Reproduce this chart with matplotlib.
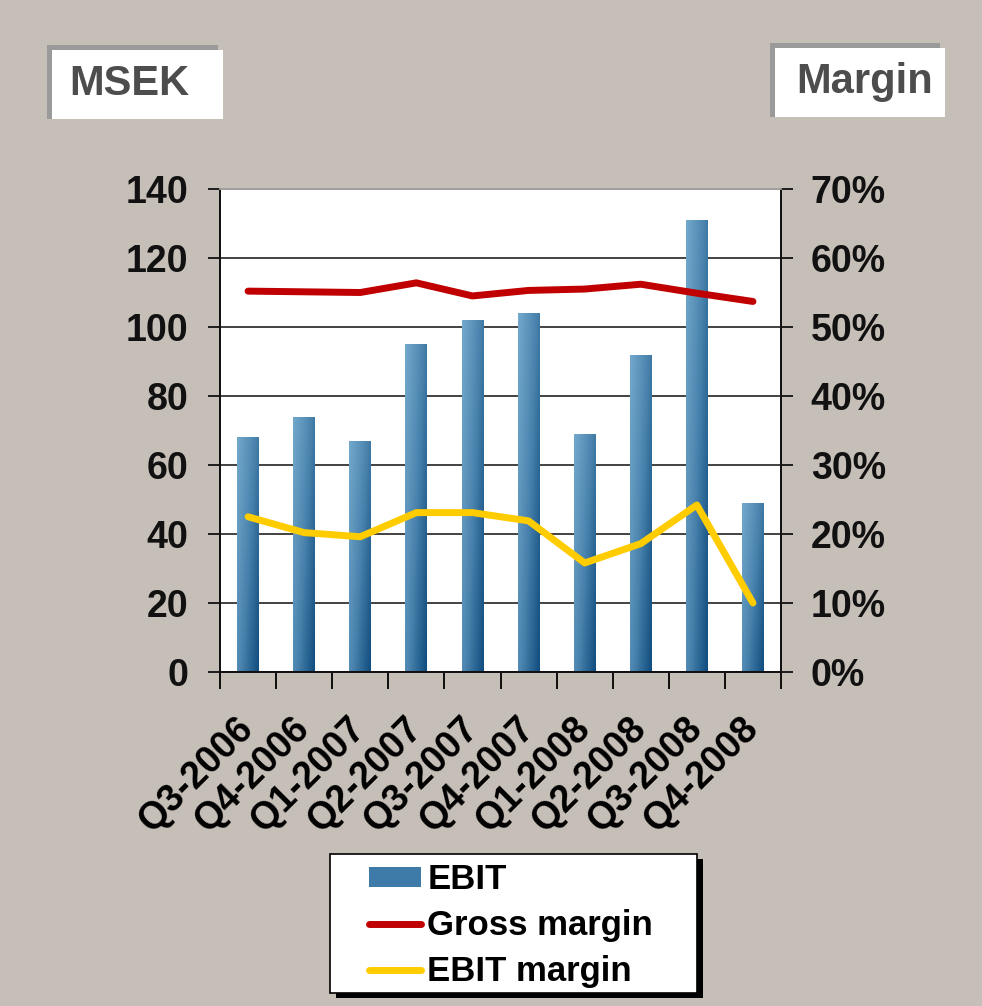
import numpy as np
import matplotlib
matplotlib.use("Agg")
import matplotlib.pyplot as plt
from matplotlib.patches import Rectangle, Patch
from matplotlib.lines import Line2D
from matplotlib.colors import LinearSegmentedColormap

plt.rcParams['font.family'] = ['Liberation Sans', 'DejaVu Sans']
plt.rcParams['font.weight'] = 'bold'

quarters = ["Q3-2006", "Q4-2006", "Q1-2007", "Q2-2007", "Q3-2007",
            "Q4-2007", "Q1-2008", "Q2-2008", "Q3-2008", "Q4-2008"]
ebit = [68, 74, 67, 95, 102, 104, 69, 92, 131, 49]
gross_margin = [55.2, 55.1, 55.0, 56.4, 54.5, 55.3, 55.5, 56.2, 54.9, 53.7]
ebit_margin = [22.5, 20.2, 19.6, 23.1, 23.1, 21.9, 15.8, 18.6, 24.2, 10.0]

bg = "#c6bfb8"
W, H = 982, 1006
fig = plt.figure(figsize=(W / 100, H / 100), dpi=100, facecolor=bg)

ax = fig.add_axes([220 / W, 1 - 672 / H, 561 / W, 483 / H])
ax.set_facecolor("white")
ax2 = ax.twinx()

x = np.arange(len(quarters))
bars = ax.bar(x, ebit, width=0.39, color="#3d7aa6", zorder=2)

# gradient fill for each bar
cmap = LinearSegmentedColormap.from_list("ebit", ["#74a9cc", "#4a84ae", "#104c7e"])
gx, gy = np.meshgrid(np.linspace(0, 1, 60), np.linspace(0, 1, 120))
grad = 0.6 * gx + 0.4 * gy
for b in bars:
    bx, by = b.get_x(), b.get_y()
    bw, bh = b.get_width(), b.get_height()
    im = ax.imshow(grad, cmap=cmap, aspect="auto", zorder=2.1,
                   extent=[bx, bx + bw, by, by + bh], origin="upper")
    im.set_clip_path(b)

ax.set_xlim(-0.5, len(quarters) - 0.5)
ax.set_ylim(0, 140)
ax.set_yticks(np.arange(0, 141, 20))
ax.grid(axis="y", color="#222222", linewidth=1.2, zorder=1)
ax.set_axisbelow(True)

ax2.plot(x, gross_margin, color="#c00000", linewidth=5, solid_capstyle="round", zorder=3)
ax2.plot(x, ebit_margin, color="#ffcc00", linewidth=5, solid_capstyle="round", zorder=3)
ax2.set_ylim(0, 70)
ax2.set_yticks(np.arange(0, 71, 10))
ax2.set_yticklabels([f"{v}%" for v in range(0, 71, 10)])

for a in (ax, ax2):
    a.spines["top"].set_color("#a0a0a0")
    a.spines["left"].set_color("#111111")
    a.spines["right"].set_color("#111111")
    a.spines["bottom"].set_color("#111111")
    for s in a.spines.values():
        s.set_linewidth(1.3)

ax.tick_params(axis="y", direction="out", length=9, width=1.3, pad=14,
               labelsize=27, colors="#111111")
ax2.tick_params(axis="y", direction="out", length=8.5, width=1.3, pad=13,
                labelsize=27, colors="#111111")

ax.set_xticks(x)
ax.set_xticks(np.arange(-0.5, len(quarters), 1), minor=True)
ax.tick_params(axis="x", which="major", length=0, pad=37)
ax.tick_params(axis="x", which="minor", direction="out", length=12, width=1.3)
ax.set_xticklabels(quarters, rotation=45, ha="right", va="center",
                   rotation_mode="anchor", fontsize=27, color="black")

# unit boxes
def label_box(x0, y0, x1, y1, text, tx):
    fig.patches.append(Rectangle((x0 / W, 1 - y1 / H), (x1 - x0) / W, (y1 - y0) / H,
                                 transform=fig.transFigure, facecolor="#9a9a9a",
                                 edgecolor="none", zorder=1))
    fig.patches.append(Rectangle(((x0 + 5) / W, 1 - y1 / H), (x1 - x0) / W, (y1 - y0 - 5) / H,
                                 transform=fig.transFigure, facecolor="white",
                                 edgecolor="none", zorder=2))
    fig.text(tx / W, 1 - (y0 + y1 + 4) / 2 / H, text, fontsize=30, color="#4d4d4d",
             ha="left", va="center", zorder=3)

label_box(47, 45, 218, 119, "MSEK", 69)
label_box(770, 43, 940, 117, "Margin", 796)

# legend box with shadow
lx0, ly0, lx1, ly1 = 330, 854, 697, 993
fig.patches.append(Rectangle(((lx0 + 6) / W, 1 - (ly1 + 5) / H), (lx1 - lx0) / W, (ly1 - ly0) / H,
                             transform=fig.transFigure, facecolor="black", zorder=1))
fig.patches.append(Rectangle((lx0 / W, 1 - ly1 / H), (lx1 - lx0) / W, (ly1 - ly0) / H,
                             transform=fig.transFigure, facecolor="white",
                             edgecolor="black", linewidth=1.2, zorder=2))
handles = [Patch(facecolor="#3f7ba8", edgecolor="none"),
           Line2D([], [], color="#c00000", linewidth=5, solid_capstyle="round"),
           Line2D([], [], color="#ffcc00", linewidth=5, solid_capstyle="round")]
leg = fig.legend(handles, ["EBIT", "Gross margin", "EBIT margin"],
                 loc="upper left", bbox_to_anchor=(345 / W, 1 - 839 / H),
                 frameon=False, fontsize=25, handlelength=1.5, handleheight=0.55,
                 handletextpad=0.17, labelspacing=0.37, borderpad=0.2)
leg.set_zorder(5)

fig.savefig("out.png", dpi=100, facecolor=bg)
